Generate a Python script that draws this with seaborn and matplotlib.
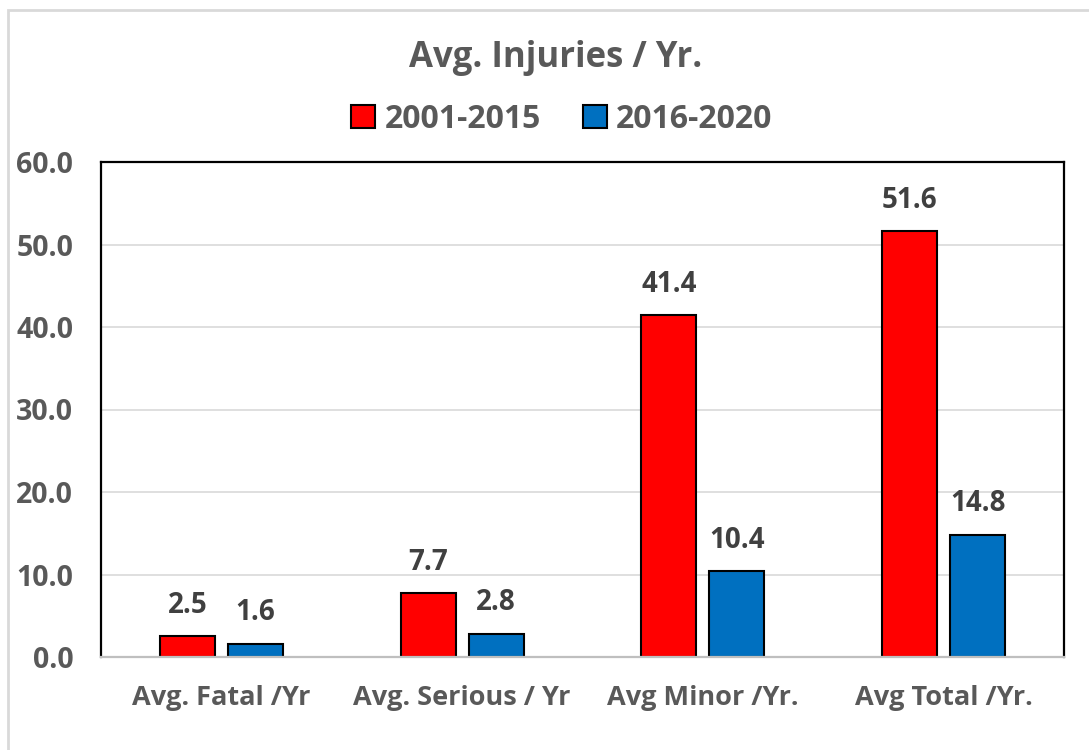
import numpy as np
import pandas as pd
import matplotlib
matplotlib.use("Agg")
import matplotlib.pyplot as plt
from matplotlib.patches import Rectangle
import seaborn as sns

# Datos
categories = ["Avg. Fatal /Yr", "Avg. Serious / Yr", "Avg Minor /Yr.", "Avg Total /Yr."]
periods = ["2001-2015", "2016-2020"]
vals_2001_2015 = [2.5, 7.7, 41.4, 51.6]
vals_2016_2020 = [1.6, 2.8, 10.4, 14.8]
yticks = [0, 10, 20, 30, 40, 50, 60]

COLORS = {"2001-2015": "#FF0000", "2016-2020": "#0070C0"}
TXT = "#595959"

df = pd.DataFrame({
    "category": categories * 2,
    "period": [periods[0]] * 4 + [periods[1]] * 4,
    "value": vals_2001_2015 + vals_2016_2020,
})

sns.set_theme(style="white")
plt.rcParams["font.family"] = ["Open Sans", "DejaVu Sans"]
plt.rcParams["font.weight"] = "bold"

fig = plt.figure(figsize=(10.89, 7.5), dpi=100)
ax = fig.add_axes([101 / 1089, 1 - 657 / 750, (1064 - 101) / 1089, (657 - 162) / 750])

sns.barplot(
    data=df, x="category", y="value", hue="period",
    order=categories, hue_order=periods, palette=COLORS,
    width=0.564, gap=0.19, edgecolor="black", linewidth=1.5,
    saturation=1, ax=ax, legend=False,
)

# ── Etiquetas de datos ─────────────────────────────────────────────────
for cont in ax.containers:
    ax.bar_label(cont, fmt="%.1f", padding=12, fontsize=20,
                 fontweight="bold", color="#404040")

# ── Ejes ───────────────────────────────────────────────────────────────
ax.set_ylim(0, 60)
ax.set_yticks(yticks)
ax.set_yticklabels([f"{v:.1f}" for v in yticks])
ax.set_xlim(-0.5, 3.5)
ax.set_xlabel("")
ax.set_ylabel("")
ax.tick_params(axis="y", labelsize=20.5, labelcolor=TXT, pad=20, length=0)
ax.tick_params(axis="x", labelsize=19.5, labelcolor=TXT, pad=20, length=0)
for lab in ax.get_xticklabels() + ax.get_yticklabels():
    lab.set_fontweight("bold")
ax.grid(axis="y", color="#D9D9D9", lw=1.2)
ax.set_axisbelow(True)
for side in ["top", "left", "right"]:
    ax.spines[side].set_color("black")
    ax.spines[side].set_linewidth(1.6)
ax.spines["bottom"].set_color("#BFBFBF")
ax.spines["bottom"].set_linewidth(1.6)

# ── Título y leyenda ───────────────────────────────────────────────────
fig.text(0.51, 1 - 58 / 750, "Avg. Injuries / Yr.", ha="center", va="center",
         fontsize=25, fontweight="bold", color=TXT)
handles = [Rectangle((0, 0), 1, 1, facecolor=COLORS[p], edgecolor="black", lw=1.5)
           for p in periods]
fig.legend(handles, periods, loc="center", bbox_to_anchor=(0.516, 1 - 119 / 750),
           ncol=2, frameon=False, handlelength=0.75, handleheight=0.75,
           handletextpad=0.3, columnspacing=1.3, labelcolor=TXT,
           prop={"weight": "bold", "size": 23})

# Borde del área del gráfico
fig.patches.append(Rectangle((8 / 1089, -0.05), 1.1, 1 - 10 / 750 + 0.05,
                             transform=fig.transFigure, fill=False,
                             edgecolor="#D9D9D9", lw=2))

fig.savefig("out.png", dpi=100)
